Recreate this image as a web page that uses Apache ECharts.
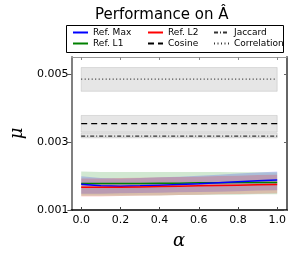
<!DOCTYPE html>
<html><head><meta charset="utf-8">
<script src="https://cdn.jsdelivr.net/npm/echarts@6/dist/echarts.min.js"></script>
<style>html,body{margin:0;padding:0;background:#fff}#c{width:294px;height:255px}</style>
</head><body><div id="c"></div>
<script>
const alpha = [0, 0.1, 0.2, 0.3, 0.4, 0.5, 0.6, 0.7, 0.8, 0.9, 1.0];
const xTicks = [0, 0.2, 0.4, 0.6, 0.8, 1.0];
const yTicks = [0.001, 0.003, 0.005];

const refMax   = [0.00176, 0.00171, 0.00170, 0.00171, 0.00173, 0.00175, 0.00177, 0.00180, 0.00183, 0.00186, 0.00188];
const refMaxLo = [0.00148, 0.00148, 0.00149, 0.00150, 0.00151, 0.00152, 0.00153, 0.00154, 0.00155, 0.00157, 0.00158];
const refMaxHi = [0.00199, 0.00194, 0.00193, 0.00194, 0.00196, 0.00198, 0.00201, 0.00204, 0.00207, 0.00210, 0.00213];

const refL1    = [0.00178, 0.00178, 0.00178, 0.00178, 0.00179, 0.00179, 0.00180, 0.00180, 0.00181, 0.00181, 0.00181];
const refL1Lo  = [0.00142, 0.00142, 0.00142, 0.00143, 0.00143, 0.00144, 0.00144, 0.00145, 0.00145, 0.00146, 0.00146];
const refL1Hi  = [0.00213, 0.00212, 0.00212, 0.00212, 0.00212, 0.00212, 0.00212, 0.00212, 0.00211, 0.00211, 0.00211];

const refL2    = [0.00167, 0.00167, 0.00167, 0.00168, 0.00169, 0.00170, 0.00171, 0.00172, 0.00173, 0.00174, 0.00175];
const refL2Lo  = [0.00140, 0.00140, 0.00141, 0.00142, 0.00143, 0.00144, 0.00145, 0.00146, 0.00147, 0.00148, 0.00149];
const refL2Hi  = [0.00193, 0.00193, 0.00194, 0.00195, 0.00196, 0.00197, 0.00198, 0.00200, 0.00201, 0.00203, 0.00204];

const cosine   = [0.00354, 0.00354, 0.00354, 0.00354, 0.00354, 0.00354, 0.00354, 0.00354, 0.00354, 0.00354, 0.00354];
const cosineLo = [0.00329, 0.00329, 0.00329, 0.00329, 0.00329, 0.00329, 0.00329, 0.00329, 0.00329, 0.00329, 0.00329];
const cosineHi = [0.00378, 0.00378, 0.00378, 0.00378, 0.00378, 0.00378, 0.00378, 0.00378, 0.00378, 0.00378, 0.00378];

const jaccard   = [0.00317, 0.00317, 0.00317, 0.00317, 0.00317, 0.00317, 0.00317, 0.00317, 0.00317, 0.00317, 0.00317];
const jaccardLo = [0.00312, 0.00312, 0.00312, 0.00312, 0.00312, 0.00312, 0.00312, 0.00312, 0.00312, 0.00312, 0.00312];
const jaccardHi = [0.00326, 0.00326, 0.00326, 0.00326, 0.00326, 0.00326, 0.00326, 0.00326, 0.00326, 0.00326, 0.00326];

const corr   = [0.00485, 0.00485, 0.00485, 0.00485, 0.00485, 0.00485, 0.00485, 0.00485, 0.00485, 0.00485, 0.00485];
const corrLo = [0.00449, 0.00449, 0.00449, 0.00449, 0.00449, 0.00449, 0.00449, 0.00449, 0.00449, 0.00449, 0.00449];
const corrHi = [0.00519, 0.00519, 0.00519, 0.00519, 0.00519, 0.00519, 0.00519, 0.00519, 0.00519, 0.00519, 0.00519];

const FONT = 'DejaVu Sans';
const pts = arr => alpha.map((a, i) => [a, arr[i]]);

function band(id, lo, hi, fill, edge) {
  const data = alpha.map((a, i) => [a, lo[i], hi[i]]);
  return {
    name: id + '_band', type: 'custom', silent: true, z: 1, data: data,
    encode: { x: 0, y: [1, 2] },
    renderItem: function (params, api) {
      if (params.dataIndex !== 0) return null;
      const top = data.map(d => api.coord([d[0], d[2]]));
      const bot = data.map(d => api.coord([d[0], d[1]])).reverse();
      return {
        type: 'polygon',
        shape: { points: top.concat(bot) },
        style: { fill: fill, stroke: edge || null, lineWidth: edge ? 1 : 0 }
      };
    }
  };
}
function line(name, arr, color, type, width) {
  return { name, type: 'line', data: pts(arr), symbol: 'none', showSymbol: false, z: 3,
    lineStyle: { color, type, width }, itemStyle: { color } };
}

const gray = 'rgba(128,128,128,0.2)', grayEdge = 'rgba(128,128,128,0.22)';
const series = [
  band('corr', corrLo, corrHi, gray, grayEdge),
  band('cos', cosineLo, cosineHi, gray, grayEdge),
  band('jac', jaccardLo, jaccardHi, gray, grayEdge),
  band('g', refL1Lo, refL1Hi, 'rgba(0,128,0,0.18)', null),
  band('b', refMaxLo, refMaxHi, 'rgba(0,0,255,0.18)', null),
  band('r', refL2Lo, refL2Hi, 'rgba(255,0,0,0.18)', null),
  line('Ref. L1', refL1, '#008000', 'solid', 1.5),
  line('Ref. Max', refMax, '#0000ff', 'solid', 1.5),
  line('Ref. L2', refL2, '#ff0000', 'solid', 1.5),
  line('Cosine', cosine, '#000000', [6, 4], 1.3),
  line('Jaccard', jaccard, '#333333', [4, 2, 1, 2], 1.3),
  line('Correlation', corr, '#333333', [1, 2.5], 1.3)
];

const legendBase = { orient: 'vertical', top: 28, itemWidth: 15, itemHeight: 8, itemGap: 2,
  itemStyle: { opacity: 0 },
  textStyle: { fontFamily: FONT, fontSize: 9, color: '#000' }, padding: 0 };

const chart = echarts.init(document.getElementById('c'), null, { renderer: 'canvas' });
chart.setOption({
  animation: false,
  backgroundColor: '#fff',
  title: { text: 'Performance on Â', left: 90, top: 3,
    textStyle: { fontFamily: FONT, fontSize: 15, fontWeight: 'normal', color: '#000' } },
  legend: [
    Object.assign({}, legendBase, { left: 72, data: ['Ref. Max', 'Ref. L1'] }),
    Object.assign({}, legendBase, { left: 147, data: ['Ref. L2', 'Cosine'] }),
    Object.assign({}, legendBase, { left: 213, data: ['Jaccard', 'Correlation'] })
  ],
  graphic: [{ type: 'rect', shape: { x: 66.5, y: 25.5, width: 217, height: 27 },
    style: { fill: 'none', stroke: '#000', lineWidth: 1 }, z: 10 }],
  grid: { left: 63, right: 7, top: 57, bottom: 43 },
  xAxis: [{
    type: 'value', min: -0.05, max: 1.05, position: 'bottom',
    name: 'α', nameLocation: 'middle', nameGap: 22,
    nameTextStyle: { fontFamily: 'DejaVu Serif', fontStyle: 'italic', fontSize: 18, color: '#000' },
    axisLine: { onZero: false, lineStyle: { color: '#000', width: 1.5 } },
    axisTick: { show: true, inside: true, length: 3, customValues: xTicks, lineStyle: { color: '#444' } },
    axisLabel: { customValues: xTicks, formatter: v => v.toFixed(1), fontFamily: FONT, fontSize: 11, color: '#000', margin: 5 },
    splitLine: { show: false }
  }, {
    type: 'value', min: -0.05, max: 1.05, position: 'top',
    axisLine: { onZero: false, lineStyle: { color: '#999', width: 1 } },
    axisTick: { show: true, inside: true, length: 3, customValues: xTicks, lineStyle: { color: '#888' } },
    axisLabel: { show: false }, splitLine: { show: false }
  }],
  yAxis: [{
    type: 'value', min: 0.001, max: 0.0055, position: 'left',
    name: 'μ', nameLocation: 'middle', nameGap: 40, nameRotate: 90,
    nameTextStyle: { fontFamily: 'DejaVu Serif', fontStyle: 'italic', fontSize: 18, color: '#000' },
    axisLine: { show: true, onZero: false, lineStyle: { color: '#808080', width: 2 } },
    axisTick: { show: true, inside: false, length: 4, customValues: yTicks, lineStyle: { color: '#555' } },
    axisLabel: { customValues: yTicks, formatter: v => v.toFixed(3), fontFamily: FONT, fontSize: 11, color: '#000', margin: 3 },
    splitLine: { show: false }
  }, {
    type: 'value', min: 0.001, max: 0.0055, position: 'right',
    axisLine: { show: true, onZero: false, lineStyle: { color: '#666', width: 2 } },
    axisTick: { show: true, inside: true, length: 3, customValues: yTicks, lineStyle: { color: '#666' } },
    axisLabel: { show: false }, splitLine: { show: false }
  }],
  series: series
});
</script></body></html>
